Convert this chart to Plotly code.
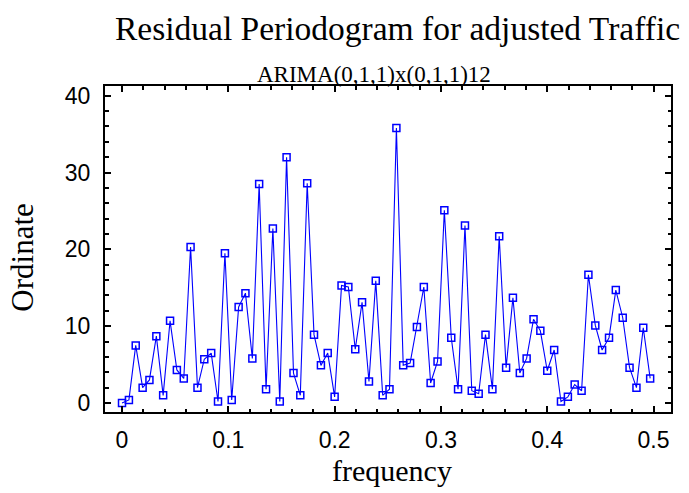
import plotly.graph_objects as go

frequency = [0.0000, 0.0065, 0.0129, 0.0194, 0.0258, 0.0323, 0.0387, 0.0452, 0.0516, 0.0581,
             0.0645, 0.0710, 0.0774, 0.0839, 0.0903, 0.0968, 0.1032, 0.1097, 0.1161, 0.1226,
             0.1290, 0.1355, 0.1419, 0.1484, 0.1548, 0.1613, 0.1677, 0.1742, 0.1806, 0.1871,
             0.1935, 0.2000, 0.2065, 0.2129, 0.2194, 0.2258, 0.2323, 0.2387, 0.2452, 0.2516,
             0.2581, 0.2645, 0.2710, 0.2774, 0.2839, 0.2903, 0.2968, 0.3032, 0.3097, 0.3161,
             0.3226, 0.3290, 0.3355, 0.3419, 0.3484, 0.3548, 0.3613, 0.3677, 0.3742, 0.3806,
             0.3871, 0.3935, 0.4000, 0.4065, 0.4129, 0.4194, 0.4258, 0.4323, 0.4387, 0.4452,
             0.4516, 0.4581, 0.4645, 0.4710, 0.4774, 0.4839, 0.4903, 0.4968]

ordinate = [0.0, 0.4, 7.5, 2.0, 3.0, 8.7, 1.0, 10.7, 4.3, 3.2,
            20.3, 2.0, 5.7, 6.5, 0.2, 19.5, 0.4, 12.5, 14.3, 5.8,
            28.5, 1.8, 22.7, 0.2, 32.0, 3.9, 1.0, 28.6, 8.9, 4.9,
            6.5, 0.8, 15.3, 15.1, 7.0, 13.1, 2.8, 15.9, 1.0, 1.8,
            35.8, 4.9, 5.2, 9.9, 15.1, 2.6, 5.4, 25.1, 8.5, 1.8,
            23.1, 1.6, 1.2, 8.9, 1.8, 21.7, 4.6, 13.7, 3.9, 5.8,
            10.9, 9.4, 4.2, 6.9, 0.2, 0.8, 2.4, 1.6, 16.7, 10.1,
            6.9, 8.5, 14.7, 11.1, 4.6, 2.0, 9.8, 3.2]

x_tickvals = [0, 0.1, 0.2, 0.3, 0.4, 0.5]
x_ticktext = ["0", "0.1", "0.2", "0.3", "0.4", "0.5"]
y_tickvals = [0, 10, 20, 30, 40]

title_text = "Residual Periodogram for adjusted Traffic"
subtitle_text = "ARIMA(0,1,1)x(0,1,1)12"
x_label = "frequency"
y_label = "Ordinate"

SERIF = "Liberation Serif, Times New Roman, serif"
SANS = "Liberation Sans, Arial, sans-serif"

# plot area in pixels
L, R, T, B = 104.7, 670.7, 86.0, 412.3
W, H = 689, 493
PW, PH = R - L, B - T

fig = go.Figure()
fig.add_trace(go.Scatter(
    x=frequency, y=ordinate, mode="lines+markers",
    line=dict(color="#0000ff", width=1.1),
    marker=dict(symbol="square-open", size=7, color="#0000ff", line=dict(width=1.5)),
    showlegend=False, hoverinfo="x+y"))

axis_common = dict(
    showgrid=False, zeroline=False, showline=True, linecolor="black", linewidth=2,
    mirror="allticks", ticks="inside", ticklen=6, tickwidth=1.5, tickcolor="black",
    tickfont=dict(family=SANS, size=23, color="black"),
)

fig.update_xaxes(
    range=[-0.016, 0.5164], tickvals=x_tickvals, ticktext=x_ticktext,
    minor=dict(dtick=0.02, tick0=0, ticks="inside", ticklen=3.5, tickwidth=1.5, tickcolor="black"),
    ticklabelstandoff=6,
    **axis_common)
fig.update_yaxes(
    range=[-1.17, 41.26], tickvals=y_tickvals,
    minor=dict(dtick=2, tick0=0, ticks="inside", ticklen=3.5, tickwidth=1.5, tickcolor="black"),
    ticklabelstandoff=8,
    **axis_common)

# titles
fig.add_annotation(text=title_text, xref="paper", yref="paper", x=(397 - L) / PW, y=1, yshift=T - 28,
                   xanchor="center", yanchor="middle", showarrow=False,
                   font=dict(family=SERIF, size=33.5, color="black"))
fig.add_annotation(text=subtitle_text, xref="paper", yref="paper", x=(374 - L) / PW, y=1, yshift=T - 74,
                   xanchor="center", yanchor="middle", showarrow=False,
                   font=dict(family=SERIF, size=23, color="black"))
# axis titles
fig.add_annotation(text=x_label, xref="paper", yref="paper", x=(391.5 - L) / PW, y=0, yshift=-(471 - B),
                   xanchor="center", yanchor="middle", showarrow=False,
                   font=dict(family=SERIF, size=30, color="black"))
fig.add_annotation(text=y_label, xref="paper", yref="paper", x=0, xshift=22 - L, y=(B - 257.5) / PH,
                   xanchor="center", yanchor="middle", showarrow=False, textangle=-90,
                   font=dict(family=SERIF, size=31, color="black"))

fig.update_layout(
    width=W, height=H,
    margin=dict(l=L, r=W - R, t=T, b=H - B),
    paper_bgcolor="white", plot_bgcolor="white",
)

fig.write_html("out.html")
